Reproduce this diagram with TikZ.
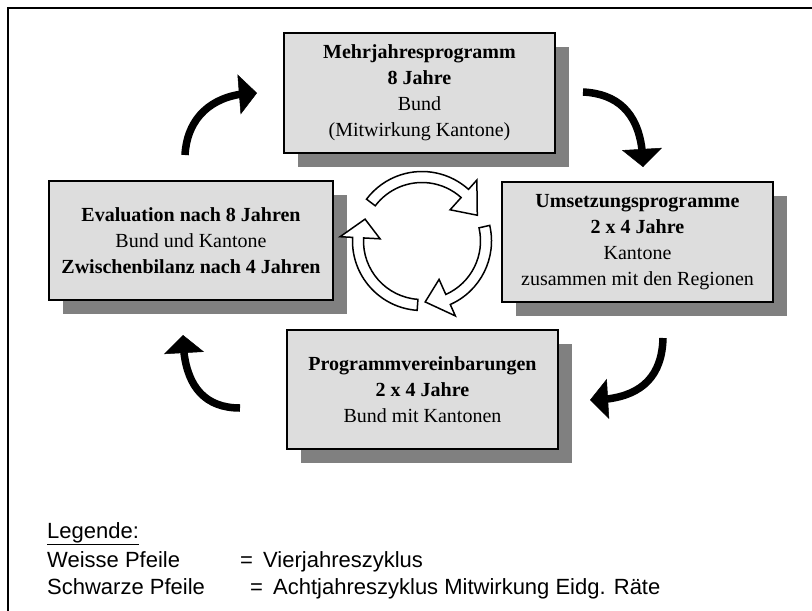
\documentclass[tikz,border=0pt]{standalone}
\usepackage{fontspec}
\setmainfont{Liberation Serif}
\newfontfamily\legendfont{Liberation Sans}
\usepackage{tikz}
\usetikzlibrary{arrows.meta,bending,shadows}
\definecolor{boxgray}{RGB}{221,221,221}
\definecolor{shadowgray}{RGB}{128,128,128}

\begin{document}
\begin{tikzpicture}[x=1pt, y=-1pt,
    box/.style={draw, line width=1.5pt, fill=boxgray, align=center, inner sep=0pt,
        minimum width=271pt, minimum height=120pt,
        font=\fontsize{20}{26}\selectfont,
        drop shadow={shadow xshift=14pt, shadow yshift=-14pt, fill=shadowgray, opacity=1}},
    black arrow/.style={line width=7.5pt, -{Triangle[length=18pt, width=40pt, line width=0.5pt, flex]}},
    white arrow/.style={draw, fill=white, line width=1.5pt},
    legend/.style={anchor=base west, inner sep=0pt, font=\legendfont\fontsize{22}{27}\selectfont}]
    \useasboundingbox (0,0) rectangle (812,611);

    % Frame
    \draw[line width=2.5pt] (8,620) -- (8,8) -- (820,8);

    % Boxes
    \node[box] (mjp) at (419.5,93) {\textbf{Mehrjahresprogramm}\\\textbf{8 Jahre}\\Bund\\(Mitwirkung Kantone)};
    \node[box] (usp) at (637.5,242) {\textbf{Umsetzungsprogramme}\\\textbf{2 x 4 Jahre}\\Kantone\\zusammen mit den Regionen};
    \node[box, minimum height=119pt] (pv) at (422.5,389.5) {\textbf{Programmvereinbarungen}\\\textbf{2 x 4 Jahre}\\Bund mit Kantonen};
    \node[box, minimum width=284pt, minimum height=119pt] (eval) at (191,240.5) {\textbf{Evaluation nach 8 Jahren}\\Bund und Kantone\\\textbf{Zwischenbilanz nach 4 Jahren}};

    % Black arrows (eight year cycle)
    \coordinate (b1s) at (185,155);
    \coordinate (b1e) at (257,93);
    \coordinate (b2s) at (583,92);
    \coordinate (b2e) at (643,167);
    \coordinate (b3s) at (663,338);
    \coordinate (b3e) at (590,400);
    \coordinate (b4s) at (240,408);
    \coordinate (b4e) at (183,335);
    \draw[black arrow] (b1s) .. controls (187,118) and (212,93) .. (b1e);
    \draw[black arrow] (b2s) .. controls (622,94) and (643,118) .. (b2e);
    \draw[black arrow] (b3s) .. controls (662,382) and (635,400) .. (b3e);
    \draw[black arrow] (b4s) .. controls (200,408) and (183,380) .. (b4e);

    % White arrows (four year cycle)
    \begin{scope}[shift={(422,241)}, yscale=-1]
        \foreach \tail/\base/\tip in {143/48/25, 13/-66/-87, 266/177/159}
            \draw[white arrow] (\tail:58.5) arc[start angle=\tail, end angle=\base, radius=58.5]
                -- (\base:42) -- (\tip:61) -- (\base:82) -- (\base:69.5)
                arc[start angle=\base, end angle=\tail, radius=69.5] -- cycle;
    \end{scope}

    % Legend
    \node[legend] (leg) at (47,538) {\underline{Legende:}};
    \node[legend] (wp) at (47,567) {Weisse Pfeile};
    \node[legend] (weq) at (240,567) {=};
    \node[legend] (wtx) at (263,567) {Vierjahreszyklus};
    \node[legend] (sp) at (47,594) {Schwarze Pfeile};
    \node[legend] (seq) at (250,594) {=};
    \node[legend] (stx) at (273,594) {Achtjahreszyklus Mitwirkung Eidg. Räte};
\end{tikzpicture}
\end{document}
